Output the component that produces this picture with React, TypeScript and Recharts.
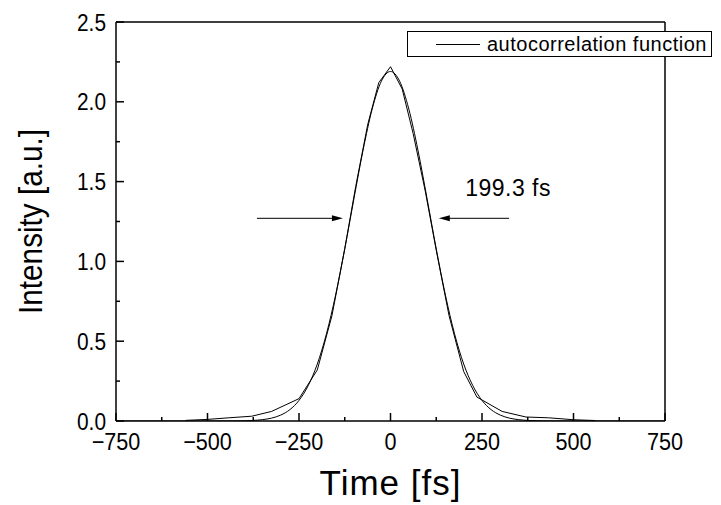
import { LineChart, Line, XAxis, YAxis, Legend, ReferenceLine, ReferenceDot } from 'recharts';

// measured autocorrelation trace (time in fs, intensity in a.u.)
const DATA_T = [-560, -500, -442, -379, -325, -250, -200, -160, -125, -95, -62, -32, 0, 32, 62, 95, 125, 160, 200, 236, 305, 370, 432, 500, 560];
const DATA_V = [0.004, 0.01, 0.02, 0.03, 0.06, 0.14, 0.32, 0.66, 1.08, 1.47, 1.86, 2.12, 2.22, 2.08, 1.8, 1.44, 1.07, 0.66, 0.31, 0.15, 0.06, 0.025, 0.02, 0.008, 0.003];

// fitted curve
const FIT_T = [-750, -500, -450, -425, -400, -375, -350, -325, -300, -275, -250, -225, -200, -175, -150, -125, -100, -75, -50, -25, 0, 25, 50, 75, 100, 125, 150, 175, 200, 225, 250, 275, 300, 325, 350, 375, 400, 425, 450, 500, 750];
const FIT_V = [0, 0, 0.0002, 0.0006, 0.0015, 0.0037, 0.0085, 0.018, 0.037, 0.071, 0.129, 0.221, 0.357, 0.546, 0.789, 1.078, 1.392, 1.697, 1.955, 2.129, 2.19, 2.129, 1.955, 1.697, 1.392, 1.078, 0.789, 0.546, 0.357, 0.221, 0.129, 0.071, 0.037, 0.018, 0.0085, 0.0037, 0.0015, 0.0006, 0.0002, 0, 0];

const X_TICKS = [-750, -625, -500, -375, -250, -125, 0, 125, 250, 375, 500, 625, 750];
const Y_TICKS = [0, 0.25, 0.5, 0.75, 1, 1.25, 1.5, 1.75, 2, 2.25, 2.5];

// FWHM arrows: [start, tip] in fs, at intensity ARROW_Y
const ARROW_LEFT = [-365, -130];
const ARROW_RIGHT = [324, 132];
const ARROW_Y = 1.27;
const WIDTH_LABEL = '199.3 fs';
const WIDTH_LABEL_POS = { t: 204, v: 1.46 };

const measured = DATA_T.map((t, i) => ({ t, v: DATA_V[i] }));
const fit = FIT_T.map((t, i) => ({ t, v: FIT_V[i] }));

const FONT = '"Liberation Sans", Arial, sans-serif';

const fmt = (v: number) => (v < 0 ? '\u2212' + Math.abs(v) : String(v));

function makeTick(side: 'bottom' | 'top' | 'left' | 'right') {
  return (props: any) => {
    const { x, y, payload } = props;
    const v = payload.value;
    const horiz = side === 'bottom' || side === 'top';
    const major = horiz ? v % 250 === 0 : Math.abs((v * 2) % 1) < 1e-9;
    const len = major ? 8 : 4;
    let line;
    if (side === 'bottom') line = <line x1={x} y1={y} x2={x} y2={y - len} stroke="#000" strokeWidth={1.5} />;
    else if (side === 'top') line = <line x1={x} y1={y} x2={x} y2={y + len} stroke="#000" strokeWidth={1.5} />;
    else if (side === 'left') line = <line x1={x} y1={y} x2={x + len} y2={y} stroke="#000" strokeWidth={1.5} />;
    else line = <line x1={x} y1={y} x2={x - len} y2={y} stroke="#000" strokeWidth={1.5} />;
    let label = null;
    if (major && side === 'bottom')
      label = (
        <text transform={`translate(${x} ${y + 29}) scale(0.9 1)`} textAnchor="middle" fontSize={24} fontFamily={FONT} fill="#000">
          {fmt(v)}
        </text>
      );
    if (major && side === 'left')
      label = (
        <text transform={`translate(${x - 10} ${y}) scale(0.87 1)`} dy="0.36em" textAnchor="end" fontSize={24} fontFamily={FONT} fill="#000">
          {v.toFixed(1)}
        </text>
      );
    return (
      <g>
        {line}
        {label}
      </g>
    );
  };
}

const arrowShape = (p: any) => {
  const { x1, y1, x2, y2 } = p;
  const dir = x2 > x1 ? 1 : -1;
  return (
    <g>
      <line x1={x1} y1={y1} x2={x2 - dir * 8} y2={y2} stroke="#000" strokeWidth={1} />
      <polygon points={`${x2},${y2} ${x2 - dir * 11},${y2 - 3} ${x2 - dir * 11},${y2 + 3}`} fill="#000" />
    </g>
  );
};

const LegendBox = () => (
  <div
    style={{
      width: 303,
      height: 24,
      border: '1px solid #000',
      background: '#fff',
      display: 'flex',
      alignItems: 'center',
      fontFamily: FONT,
      fontSize: 20,
      letterSpacing: 0.5,
      whiteSpace: 'nowrap',
    }}
  >
    <div style={{ width: 44, height: 1, background: '#000', marginLeft: 28, marginRight: 7, flexShrink: 0 }} />
    <span>autocorrelation function</span>
  </div>
);

export default function App() {
  return (
    <div style={{ position: 'absolute', left: 0, top: 0, background: '#fff' }}>
      <LineChart width={721} height={505} margin={{ top: 0, right: 0, bottom: 0, left: 0 }}>
        <XAxis
          xAxisId="b"
          dataKey="t"
          type="number"
          domain={[-750, 750]}
          ticks={X_TICKS}
          interval={0}
          height={84}
          tickSize={0}
          tickMargin={0}
          tickLine={false}
          axisLine={{ stroke: '#000', strokeWidth: 1.5 }}
          tick={makeTick('bottom')}
          allowDataOverflow
          label={({ viewBox }: any) => (
            <text x={viewBox.x + viewBox.width / 2} y={viewBox.y + 74} textAnchor="middle" fontSize={35} letterSpacing={1} fontFamily={FONT} fill="#000">
              Time [fs]
            </text>
          )}
        />
        <XAxis
          xAxisId="t"
          orientation="top"
          dataKey="t"
          type="number"
          domain={[-750, 750]}
          ticks={X_TICKS}
          interval={0}
          height={22}
          tickSize={0}
          tickMargin={0}
          tickLine={false}
          axisLine={{ stroke: '#000', strokeWidth: 1.5 }}
          tick={makeTick('top')}
        />
        <YAxis
          yAxisId="l"
          type="number"
          domain={[0, 2.5]}
          ticks={Y_TICKS}
          interval={0}
          width={116}
          tickSize={0}
          tickMargin={0}
          tickLine={false}
          axisLine={{ stroke: '#000', strokeWidth: 1.5 }}
          tick={makeTick('left')}
          allowDataOverflow
          label={({ viewBox }: any) => {
            const cx = 30;
            const cy = viewBox.y + viewBox.height / 2;
            return (
              <text transform={`translate(${cx} ${cy}) rotate(-90) scale(0.9 1)`} textAnchor="middle" dy="0.36em" fontSize={33} fontFamily={FONT} fill="#000">
                Intensity [a.u.]
              </text>
            );
          }}
        />
        <YAxis
          yAxisId="r"
          orientation="right"
          type="number"
          domain={[0, 2.5]}
          ticks={Y_TICKS}
          interval={0}
          width={56}
          tickSize={0}
          tickMargin={0}
          tickLine={false}
          axisLine={{ stroke: '#000', strokeWidth: 1.5 }}
          tick={makeTick('right')}
        />
        <Line
          xAxisId="b"
          yAxisId="l"
          data={fit}
          dataKey="v"
          type="monotone"
          stroke="#000"
          strokeWidth={1}
          dot={false}
          legendType="none"
          name="fit"
          isAnimationActive={false}
        />
        <Line
          xAxisId="b"
          yAxisId="l"
          data={measured}
          dataKey="v"
          type="linear"
          stroke="#000"
          strokeWidth={1}
          dot={false}
          name="autocorrelation function"
          isAnimationActive={false}
        />
        <ReferenceLine
          xAxisId="b"
          yAxisId="l"
          segment={[
            { x: ARROW_LEFT[0], y: ARROW_Y },
            { x: ARROW_LEFT[1], y: ARROW_Y },
          ]}
          shape={arrowShape}
        />
        <ReferenceLine
          xAxisId="b"
          yAxisId="l"
          segment={[
            { x: ARROW_RIGHT[0], y: ARROW_Y },
            { x: ARROW_RIGHT[1], y: ARROW_Y },
          ]}
          shape={arrowShape}
        />
        <ReferenceDot
          xAxisId="b"
          yAxisId="l"
          x={WIDTH_LABEL_POS.t}
          y={WIDTH_LABEL_POS.v}
          r={0}
          shape={(p: any) => (
            <text x={p.cx} y={p.cy} dy="0.36em" fontSize={23} letterSpacing={0.5} fontFamily={FONT} fill="#000">
              {WIDTH_LABEL}
            </text>
          )}
        />
        <Legend
          layout="vertical"
          align="center"
          verticalAlign="middle"
          content={LegendBox}
          wrapperStyle={{ left: 407, top: 31, width: 305, height: 26 }}
        />
      </LineChart>
    </div>
  );
}
